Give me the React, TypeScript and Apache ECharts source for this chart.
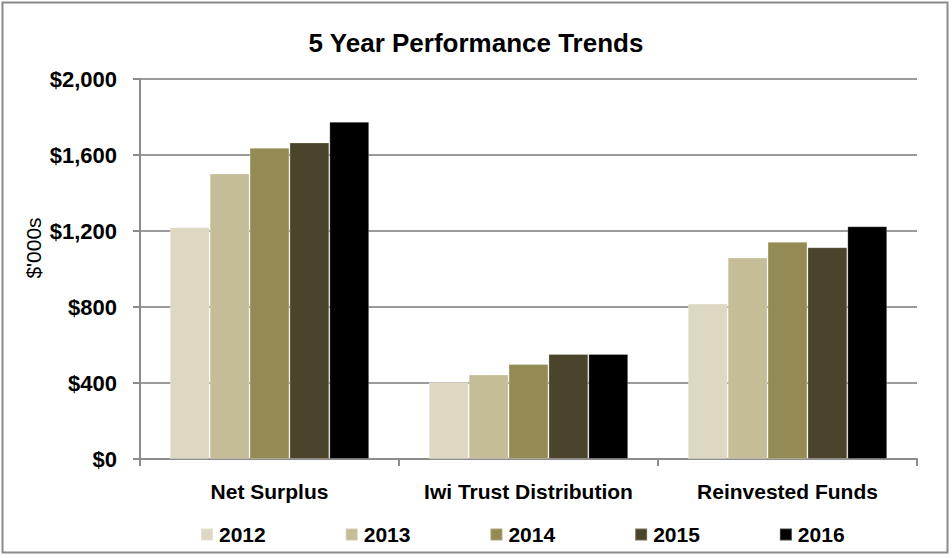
import React, { useEffect, useRef } from "react";
import * as echarts from "echarts";

const categories = ["Net Surplus", "Iwi Trust Distribution", "Reinvested Funds"];
const years = ["2012", "2013", "2014", "2015", "2016"];
const v2012 = [1220, 405, 818];
const v2013 = [1503, 445, 1060];
const v2014 = [1638, 500, 1143];
const v2015 = [1666, 553, 1115];
const v2016 = [1775, 553, 1225];
const seriesValues = [v2012, v2013, v2014, v2015, v2016];
const colors = ["#DDD8C2", "#C4BD97", "#948A54", "#4A452A", "#000000"];
const yTicks = { min: 0, max: 2000, interval: 400 };

const FONT = "'Liberation Sans', Arial, sans-serif";

export default function App() {
  const ref = useRef<HTMLDivElement>(null);
  useEffect(() => {
    if (!ref.current) return;
    const chart = echarts.init(ref.current, undefined, { renderer: "svg" });
    chart.setOption({
      animation: false,
      backgroundColor: "#ffffff",
      title: {
        text: "5 Year Performance Trends",
        left: "center",
        top: 25,
        textStyle: { fontFamily: FONT, fontSize: 26, fontWeight: "bold", color: "#000" },
      },
      legend: {
        left: 195,
        top: 519,
        itemWidth: 12,
        itemHeight: 12,
        itemGap: 79,
        icon: "rect",
        textStyle: { fontFamily: FONT, fontSize: 21, fontWeight: "bold", color: "#000", padding: [0, 0, 0, 1] },
        data: years,
      },
      grid: { left: 140, right: 35, top: 79, bottom: 99, containLabel: false },
      xAxis: {
        type: "category",
        data: categories,
        boundaryGap: true,
        axisLine: { lineStyle: { color: "#8C8C8C", width: 2 } },
        axisTick: { show: true, length: 7, lineStyle: { color: "#8C8C8C", width: 2 } },
        axisLabel: {
          interval: 0,
          hideOverlap: false,
          margin: 22,
          fontFamily: FONT,
          fontSize: 21,
          fontWeight: "bold",
          color: "#000",
        },
      },
      yAxis: {
        type: "value",
        min: yTicks.min,
        max: yTicks.max,
        interval: yTicks.interval,
        axisLine: { show: true, lineStyle: { color: "#8C8C8C", width: 2 } },
        axisTick: { show: true, length: 7, lineStyle: { color: "#8C8C8C", width: 2 } },
        splitLine: { show: true, lineStyle: { color: "#9A9A9A", width: 2 } },
        axisLabel: {
          margin: 23,
          fontFamily: FONT,
          fontSize: 22,
          fontWeight: "bold",
          color: "#000",
          formatter: (v: number) => "$" + v.toLocaleString("en-US"),
        },
      },
      graphic: [
        {
          type: "rect",
          shape: { x: 2.5, y: 2.5, width: 945, height: 550 },
          style: { fill: "none", stroke: "#8A8A8A", lineWidth: 2 },
        },
        {
          type: "text",
          x: 33,
          y: 248,
          rotation: Math.PI / 2,
          style: {
            text: "$'000s",
            fontFamily: FONT,
            fontSize: 21,
            fill: "#000",
            align: "center",
            verticalAlign: "middle",
          },
        },
      ],
      series: years.map((y, i) => ({
        name: y,
        type: "bar",
        data: seriesValues[i],
        barGap: "0%",
        barCategoryGap: "23%",
        itemStyle: { color: colors[i], borderColor: "rgba(255,255,255,0.25)", borderWidth: 1 },
      })),
    });
    return () => chart.dispose();
  }, []);
  return (
    <div
      ref={ref}
      style={{ position: "fixed", left: 0, top: 0, width: 952, height: 558 }}
    />
  );
}
